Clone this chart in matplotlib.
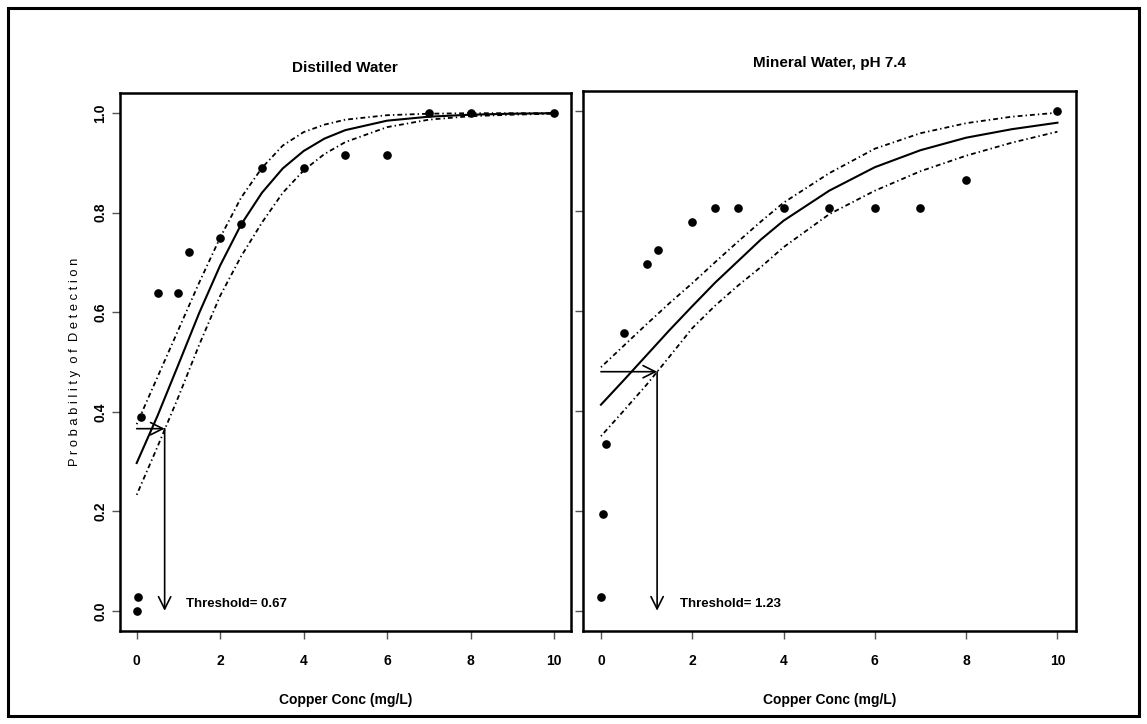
import matplotlib
matplotlib.use("Agg")
import matplotlib.pyplot as plt
from matplotlib.patches import Rectangle

plt.rcParams['font.family'] = ['Liberation Sans Narrow', 'Liberation Sans', 'DejaVu Sans']
plt.rcParams['lines.scale_dashes'] = False

# observed detection rates
dist_x = [0, 0.025, 0.1, 0.5, 1, 1.25, 2, 2.5, 3, 4, 5, 6, 7, 8, 10]
dist_p = [0.0, 0.028, 0.389, 0.639, 0.639, 0.722, 0.75, 0.778, 0.889, 0.889, 0.917, 0.917, 1.0, 1.0, 1.0]
min_x = [0, 0.05, 0.1, 0.5, 1, 1.25, 2, 2.5, 3, 4, 5, 6, 7, 8, 10]
min_p = [0.028, 0.194, 0.333, 0.556, 0.694, 0.722, 0.778, 0.806, 0.806, 0.806, 0.806, 0.806, 0.806, 0.861, 1.0]

# fitted curve and confidence band
grid_dist = [0, 0.5, 1, 1.5, 2, 2.5, 3, 3.5, 4, 4.5, 5, 6, 7, 8, 9, 10]
fit_dist = [0.297, 0.392, 0.495, 0.599, 0.694, 0.776, 0.840, 0.889, 0.924, 0.949, 0.966, 0.985, 0.993, 0.997, 0.999, 1.0]
upper_dist = [0.375, 0.47, 0.565, 0.66, 0.75, 0.83, 0.89, 0.935, 0.962, 0.977, 0.987, 0.996, 0.999, 1.0, 1.0, 1.0]
lower_dist = [0.233, 0.33, 0.43, 0.535, 0.633, 0.712, 0.78, 0.84, 0.885, 0.918, 0.942, 0.972, 0.987, 0.994, 0.997, 0.999]

grid_min = [0, 0.5, 1, 1.5, 2, 2.5, 3, 3.5, 4, 5, 6, 7, 8, 9, 10]
fit_min = [0.412, 0.461, 0.511, 0.561, 0.609, 0.656, 0.699, 0.742, 0.780, 0.840, 0.887, 0.921, 0.946, 0.963, 0.976]
upper_min = [0.487, 0.53, 0.573, 0.615, 0.655, 0.697, 0.738, 0.778, 0.816, 0.875, 0.924, 0.955, 0.975, 0.988, 0.996]
lower_min = [0.349, 0.40, 0.452, 0.508, 0.565, 0.61, 0.65, 0.687, 0.727, 0.793, 0.84, 0.879, 0.91, 0.936, 0.958]

thresholds = [0.67, 1.23]
threshold_p = [0.366, 0.478]
titles = ['Distilled Water', 'Mineral Water, pH 7.4']
xticks = [0, 2, 4, 6, 8, 10]
yticks = [0.0, 0.2, 0.4, 0.6, 0.8, 1.0]
ytick_labels = ['0.0', '0.2', '0.4', '0.6', '0.8', '1.0']

fig = plt.figure(figsize=(11.47, 7.24), dpi=100)
ax1 = fig.add_axes([120/1147, 1 - 630.7/724, 450.7/1147, 537.4/724])
ax2 = fig.add_axes([582.7/1147, 1 - 630.7/724, 493/1147, 540/724])

dashdot = (0, (1, 2.2, 3.5, 2.2))

panels = [
    (ax1, dist_x, dist_p, grid_dist, fit_dist, upper_dist, lower_dist),
    (ax2, min_x, min_p, grid_min, fit_min, upper_min, lower_min),
]

for i, (ax, px, pp, gx, fit, up, lo) in enumerate(panels):
    ax.plot(gx, fit, color='black', lw=1.5)
    ax.plot(gx, up, color='black', lw=1.3, linestyle=dashdot)
    ax.plot(gx, lo, color='black', lw=1.3, linestyle=dashdot)
    ax.plot(px, pp, 'o', color='black', markersize=5.2)

    thr = thresholds[i]
    tp = threshold_p[i]
    arrow = dict(arrowstyle='->,head_length=0.4,head_width=0.2', lw=1.2,
                 color='black', shrinkA=0, shrinkB=0, mutation_scale=22)
    ax.annotate('', xy=(thr, tp), xytext=(0, tp), arrowprops=arrow)
    ax.annotate('', xy=(thr, 0.0), xytext=(thr, tp), arrowprops=arrow)
    ax.text(thr + 0.5, 0.014, 'Threshold= %.2f' % thr, fontsize=9.5,
            fontweight='bold', va='center', ha='left')

    ax.set_xlim(-0.4, 10.4)
    ax.set_ylim(-0.04, 1.04)
    ax.set_xticks(xticks)
    ax.set_xticklabels([str(t) for t in xticks], fontweight='bold', fontsize=10)
    ax.set_yticks(yticks)
    ax.tick_params(axis='both', length=6, width=1, color='#555555', direction='out')
    ax.tick_params(axis='x', pad=11)
    for s in ax.spines.values():
        s.set_linewidth(1.8)
    ax.set_xlabel('Copper Conc (mg/L)', fontweight='bold', fontsize=10, labelpad=18)

ax1.set_title(titles[0], fontweight='bold', fontsize=11, pad=15)
ax2.set_title(titles[1], fontweight='bold', fontsize=11, pad=17)
ax1.set_yticklabels(ytick_labels, fontweight='bold', fontsize=10, rotation=90, va='center')
ax1.tick_params(axis='y', pad=3)
ax2.set_yticklabels([])
ax1.set_ylabel('P r o b a b i l i t y  o f  D e t e c t i o n', fontsize=9.3, labelpad=9)

fig.patches.append(Rectangle((8/1147, 8/724), 1131/1147, 708/724, transform=fig.transFigure,
                             fill=False, lw=2.2, color='black'))

fig.savefig('out.png', dpi=100)
